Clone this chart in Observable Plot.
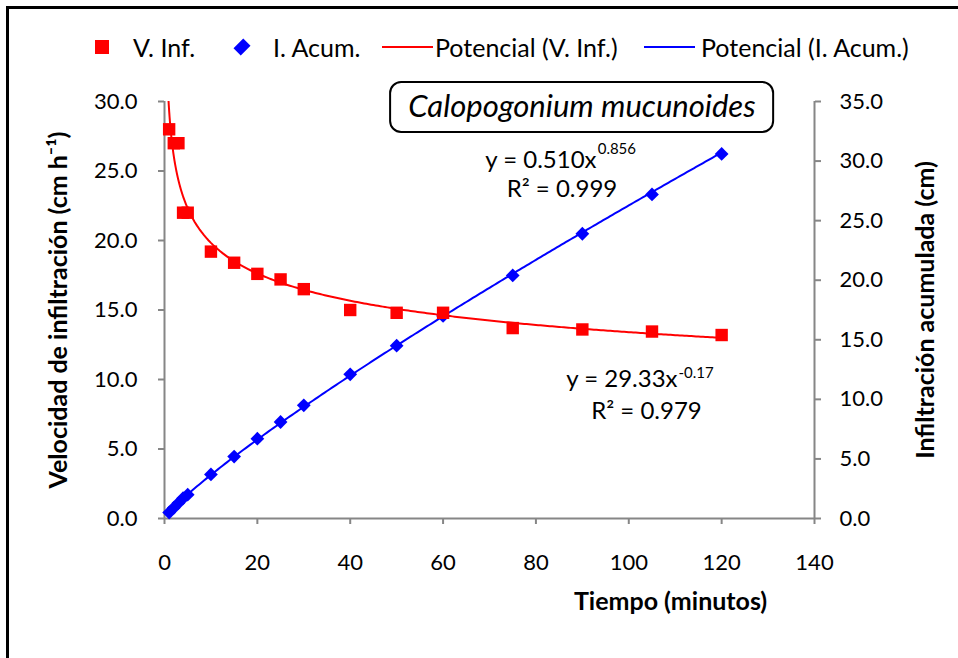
<!DOCTYPE html>
<html><head><meta charset="utf-8">
<script src="https://cdn.jsdelivr.net/npm/d3@7"></script>
<script src="https://cdn.jsdelivr.net/npm/@observablehq/plot@0.6"></script>
<style>
html,body{margin:0;padding:0;background:#fff;overflow:hidden}
#wrap{position:relative;width:958px;height:658px;overflow:hidden;font-family:Lato,sans-serif}
#border{position:absolute;left:6px;top:6px;width:1000px;height:1000px;border:3px solid #000;box-sizing:border-box}
#chart{position:absolute;left:0;top:0}
#legend{position:absolute;left:0;top:33px;height:28px;width:958px;font-size:25px;line-height:28px;color:#000}
#legend > *{position:absolute;white-space:nowrap}
</style></head><body>
<div id="wrap"><div id="border"></div><div id="chart"></div><div id="legend"></div></div>
<script>
// ---- data ----
const time = [1, 2, 3, 4, 5, 10, 15, 20, 25, 30, 40, 50, 60, 75, 90, 105, 120];
const velInf = [28.0, 27.0, 27.0, 22.0, 22.0, 19.2, 18.4, 17.6, 17.2, 16.5, 15.0, 14.8, 14.8, 13.7, 13.6, 13.45, 13.2];
const infAcum = [0.5, 0.9, 1.3, 1.7, 2.0, 3.7, 5.2, 6.7, 8.1, 9.5, 12.1, 14.5, 17.0, 20.4, 23.9, 27.2, 30.6];
const fitVel = [29.33, -0.17];   // power trendline y = a x^b (V. Inf.)
const fitAcum = [0.510, 0.856];  // power trendline y = a x^b (I. Acum.)
const xTicks = [0, 20, 40, 60, 80, 100, 120, 140];
const yLeftTicks = [0, 5, 10, 15, 20, 25, 30];
const yRightTicks = [0, 5, 10, 15, 20, 25, 30, 35];
const seriesNames = ["V. Inf.", "I. Acum.", "Potencial (V. Inf.)", "Potencial (I. Acum.)"];
const chartTitle = "Calopogonium mucunoides";
const xTitle = "Tiempo (minutos)";
const yLeftTitle = "Velocidad de infiltración (cm h⁻¹)";
const yRightTitle = "Infiltración acumulada (cm)";

const RED = "#ff0000", BLUE = "#0000ff", AXIS = "#868686";
const k = 30 / 35; // right axis (0–35) mapped onto left scale (0–30)

const vel = time.map((t, i) => ({t, v: velInf[i]}));
const acum = time.map((t, i) => ({t, v: infAcum[i] * k}));
const tGrid = d3.range(0.85, 5, 0.02).concat(d3.range(5, 120.001, 0.5));
const curveVel = tGrid.map(t => ({t, v: fitVel[0] * Math.pow(t, fitVel[1])}));
const curveAcum = tGrid.filter(t => t >= 1).map(t => ({t, v: fitAcum[0] * Math.pow(t, fitAcum[1]) * k}));

const eqMain = [
  {x: 93.05, y: 25.76, text: "y = " + fitAcum[0].toFixed(3) + "x"},
  {x: 110.5, y: 10.04, text: "y = " + fitVel[0].toFixed(2) + "x"}
];
const eqR2 = [
  {x: 85.6, y: 23.67, text: "R² = 0.999"},
  {x: 103.8, y: 7.73, text: "R² = 0.979"}
];
const eqSup = [
  {x: 93.3, y: 26.58, text: fitAcum[1].toFixed(3)},
  {x: 110.7, y: 10.43, text: String(fitVel[1])}
];

const chart = Plot.plot({
  width: 958, height: 658,
  marginLeft: 164, marginRight: 144, marginTop: 101, marginBottom: 140,
  x: {domain: [0, 140]},
  y: {domain: [0, 30]},
  style: {fontFamily: "Lato, sans-serif", background: "transparent", overflow: "visible", color: "#000"},
  marks: [
    Plot.ruleY([0], {stroke: AXIS, strokeWidth: 2}),
    Plot.ruleX([0], {stroke: AXIS, strokeWidth: 2}),
    Plot.ruleX([140], {stroke: AXIS, strokeWidth: 2}),
    Plot.axisX({ticks: xTicks, tickFormat: d => String(d), tickSize: 6, tickPadding: 30, fontSize: 22,
      stroke: AXIS, strokeWidth: 2, fill: "#000", label: null}),
    Plot.axisY({anchor: "left", ticks: yLeftTicks, tickFormat: d => d.toFixed(1), tickSize: 6, tickPadding: 21,
      fontSize: 22, stroke: AXIS, strokeWidth: 2, fill: "#000", label: null}),
    Plot.axisY({anchor: "right", ticks: yRightTicks.map(v => v * k), tickFormat: d => (d / k).toFixed(1),
      tickSize: 6, tickPadding: 19, fontSize: 22, stroke: AXIS, strokeWidth: 2, fill: "#000", label: null}),
    Plot.rect([{x1: 48.7, x2: 131.2, y1: 27.77, y2: 31.37}],
      {x1: "x1", x2: "x2", y1: "y1", y2: "y2", fill: "#fff", stroke: "#000", strokeWidth: 2, rx: 11}),
    Plot.text([chartTitle], {x: 89.9, y: 29.57, fontSize: 31, fontStyle: "italic", fill: "#000"}),
    Plot.line(curveAcum, {x: "t", y: "v", stroke: BLUE, strokeWidth: 2, clip: true}),
    Plot.line(curveVel, {x: "t", y: "v", stroke: RED, strokeWidth: 2, clip: true}),
    Plot.dot(acum, {x: "t", y: "v", symbol: "diamond2", r: 6.2, fill: BLUE, stroke: null}),
    Plot.dot(vel, {x: "t", y: "v", symbol: "square", r: 7, fill: RED, stroke: null}),
    Plot.text(eqMain, {x: "x", y: "y", text: "text", textAnchor: "end", fontSize: 24, fill: "#000"}),
    Plot.text(eqR2, {x: "x", y: "y", text: "text", textAnchor: "middle", fontSize: 24, fill: "#000"}),
    Plot.text(eqSup, {x: "x", y: "y", text: "text", textAnchor: "start", fontSize: 15, fill: "#000"}),
    Plot.text([yLeftTitle], {frameAnchor: "left", dx: -106, rotate: -90, textAnchor: "middle", lineAnchor: "middle",
      fontSize: 25, fontWeight: "bold", fill: "#000"}),
    Plot.text([yRightTitle], {frameAnchor: "right", dx: 111, rotate: -90, textAnchor: "middle", lineAnchor: "middle",
      fontSize: 25, fontWeight: "bold", fill: "#000"}),
    Plot.text([xTitle], {x: 109, frameAnchor: "bottom", dy: 83, textAnchor: "middle", lineAnchor: "middle",
      fontSize: 25, fontWeight: "bold", fill: "#000"})
  ]
});
document.getElementById("chart").appendChild(chart);

// ---- legend ----
const legend = document.getElementById("legend");
const legendItems = [
  {marker: "square", color: RED, mx: 95, tx: 133},
  {marker: "diamond", color: BLUE, mx: 236, tx: 273},
  {marker: "line", color: RED, mx: 382, tx: 435},
  {marker: "line", color: BLUE, mx: 644, tx: 701}
];
legendItems.forEach((it, i) => {
  const m = document.createElement("div");
  if (it.marker === "square") {
    Object.assign(m.style, {left: it.mx + "px", top: "7px", width: "14px", height: "14px", background: it.color});
  } else if (it.marker === "diamond") {
    Object.assign(m.style, {left: it.mx + "px", top: "8px", width: "12px", height: "12px", background: it.color,
      transform: "rotate(45deg) scale(0.85,1.15)"});
  } else {
    Object.assign(m.style, {left: it.mx + "px", top: "13px", width: "51px", height: "2px", background: it.color});
  }
  legend.appendChild(m);
  const t = document.createElement("span");
  t.textContent = seriesNames[i];
  t.style.left = it.tx + "px";
  t.style.top = "0px";
  legend.appendChild(t);
});
</script>
</body></html>
